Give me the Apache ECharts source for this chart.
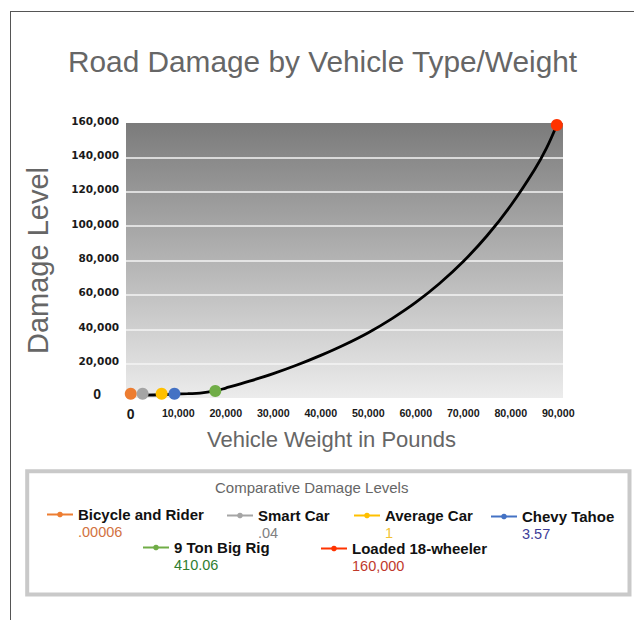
<!DOCTYPE html>
<html><head><meta charset="utf-8">
<script src="https://cdn.jsdelivr.net/npm/echarts@6/dist/echarts.min.js"></script>
<style>html,body{margin:0;padding:0;background:#fff}#c{width:634px;height:620px}</style>
</head><body><div id="c"></div>
<script>
const vehicles = ['Bicycle and Rider','Smart Car','Average Car','Chevy Tahoe','9 Ton Big Rig','Loaded 18-wheeler'];
const damageLabels = ['.00006','.04','1','3.57','410.06','160,000'];
const vehicleWeights = [0, 2500, 6500, 9200, 17800, 89700];
const plottedDamage = [2500, 2500, 2500, 2500, 4100, 158800];
const curveWeights = [2500, 6500, 9200, 12000, 14600, 17700, 20000, 25000, 30000, 35000, 40000, 45000, 50000, 55000, 60000, 65000, 70000, 75000, 80000, 85000, 87500, 89700];
const curveDamage = [1700, 1900, 2200, 2500, 2800, 4100, 5800, 9800, 14200, 19200, 24800, 31000, 38000, 46200, 55600, 66600, 79400, 94400, 112000, 132800, 145200, 158800];
const xTickValues = [0, 10000, 20000, 30000, 40000, 50000, 60000, 70000, 80000, 90000];

const seriesColors = ['#ed7d31','#a5a5a5','#ffc000','#4472c4','#70ad47','#ff3300'];
const valueColors = ['#d2723f','#808080','#f2c232','#3d3d99','#2f7d2f','#c0392b'];
const legendPos = [[46,516],[226,517],[353,517],[490,518],[142,549],[320,550]];
const FONT = "'Liberation Sans', Arial, sans-serif";

function fmt(v){ return String(v).replace(/\B(?=(\d{3})+(?!\d))/g, ','); }

const chart = echarts.init(document.getElementById('c'), null, {renderer:'svg'});

const series = [{
  type:'line', name:'curve', silent:true,
  data: curveWeights.map((x,i)=>[x, curveDamage[i]]),
  showSymbol:false, smooth:0.4,
  lineStyle:{color:'#000', width:2.8}, itemStyle:{color:'#000'}, z:3
}].concat(vehicles.map((name,i)=>({
  type:'line', name, silent:true,
  data:[[vehicleWeights[i], plottedDamage[i]]],
  symbol:'circle', symbolSize:12, showSymbol:true,
  itemStyle:{color:seriesColors[i]}, lineStyle:{color:seriesColors[i], width:2}, z:5
})));

const legends = vehicles.map((name,i)=>({
  data:[name], left:legendPos[i][0], top:legendPos[i][1]-23.5, padding:0,
  itemWidth:26, itemHeight:7, selectedMode:false,
  formatter: n => '{e| }\n{n|' + n + '}\n{v|' + damageLabels[i] + '}',
  textStyle:{ fontFamily:FONT, rich:{
    e:{fontSize:10, lineHeight:17, fontFamily:FONT},
    n:{fontSize:15, fontWeight:'bold', color:'#111', lineHeight:17, fontFamily:FONT},
    v:{fontSize:14.5, color:valueColors[i], lineHeight:17, fontFamily:FONT}
  }}
}));

chart.setOption({
  animation:false,
  backgroundColor:'#fff',
  title:[
    {text:'Road Damage by Vehicle Type/Weight', left:68, top:46, padding:0,
     textStyle:{fontSize:29.8, fontWeight:'normal', color:'#666', fontFamily:FONT, lineHeight:30}},
    {text:'Comparative Damage Levels', left:215, top:479, padding:0,
     textStyle:{fontSize:15, fontWeight:'normal', color:'#666', fontFamily:FONT, lineHeight:16}}
  ],
  graphic:[
    {type:'line', z:0, shape:{x1:10, y1:11.5, x2:634, y2:11.5}, style:{stroke:'#555', lineWidth:1}},
    {type:'line', z:0, shape:{x1:10.5, y1:11, x2:10.5, y2:620}, style:{stroke:'#555', lineWidth:1}},
    {type:'rect', z:0, shape:{x:27.2, y:471.2, width:602.3, height:123.3}, style:{fill:'#fff', stroke:'#c9c9c9', lineWidth:4}}
  ],
  legend: legends,
  grid:{left:126, top:123, width:437, height:275, show:true, borderWidth:0,
    backgroundColor:{type:'linear', x:0, y:0, x2:0, y2:1, colorStops:[{offset:0,color:'#7b7b7b'},{offset:1,color:'#ececec'}]}},
  xAxis:{
    type:'value', min:-1000, max:91000,
    name:'Vehicle Weight in Pounds', nameLocation:'middle', nameGap:30,
    nameTextStyle:{fontSize:22, color:'#666', fontFamily:FONT, padding:[0,26,0,0]},
    axisLine:{show:false}, axisTick:{show:false}, splitLine:{show:false},
    axisLabel:{customValues:xTickValues, margin:9, fontSize:10.7, fontWeight:'bold', color:'#1a1a1a', fontFamily:FONT,
      formatter: v => v === 0 ? '{z|0}' : fmt(v),
      rich:{z:{fontSize:14, fontWeight:'bold', color:'#1a1a1a', fontFamily:FONT}}}
  },
  yAxis:{
    type:'value', min:0, max:160000, interval:20000,
    name:'Damage Level', nameLocation:'middle', nameGap:74, nameRotate:90,
    nameTextStyle:{fontSize:29, color:'#666', fontFamily:FONT},
    axisLine:{show:false}, axisTick:{show:false},
    splitLine:{show:true, lineStyle:{width:1.5, color:['transparent','#f4f4f4','#f4f4f4','#f4f4f4','#f4f4f4','#f4f4f4','#f4f4f4','#f4f4f4','transparent']}},
    axisLabel:{margin:7, fontSize:10.5, fontWeight:'bold', color:'#1a1a1a', fontFamily:"'DejaVu Sans', sans-serif", padding:[0,0,5,0],
      formatter: v => v === 0 ? '{z|0}' : fmt(v),
      rich:{z:{fontSize:14, fontWeight:'bold', color:'#1a1a1a', fontFamily:FONT, padding:[0,18,4,0]}}}
  },
  series: series
});
</script></body></html>
